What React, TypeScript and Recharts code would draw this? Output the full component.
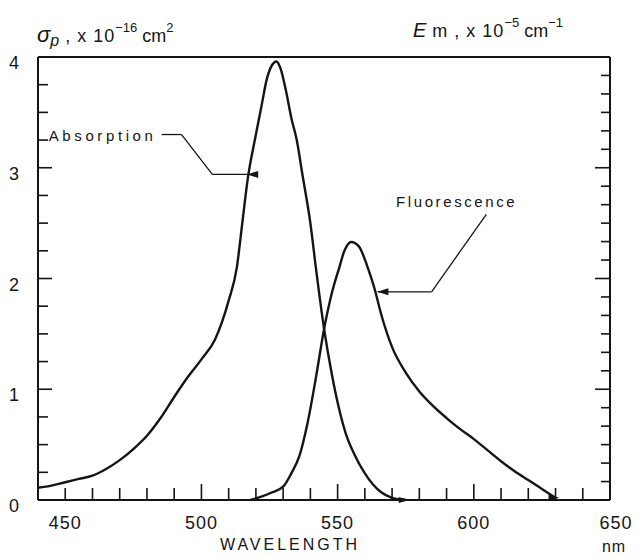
import React from 'react';
import { LineChart, Line, XAxis, YAxis, ReferenceLine, ReferenceDot } from 'recharts';

// ---- data ----
const absorptionNm = [440, 445, 450, 455, 460, 465, 470, 475, 480, 485, 490, 495, 500, 505, 510, 513, 515, 517, 520, 522, 524, 526, 527.5, 529, 531, 533, 535, 537, 540, 542, 545, 548, 550, 553, 556, 560, 563, 566, 570, 575];
const absorptionSigma = [0.11, 0.13, 0.16, 0.19, 0.22, 0.28, 0.36, 0.46, 0.58, 0.74, 0.93, 1.11, 1.27, 1.45, 1.8, 2.1, 2.5, 2.9, 3.3, 3.55, 3.8, 3.93, 3.96, 3.9, 3.7, 3.45, 3.25, 2.95, 2.5, 2.1, 1.55, 1.12, 0.88, 0.6, 0.42, 0.24, 0.14, 0.07, 0.02, 0.0];

const fluorescenceNm = [518, 522, 526, 530, 533, 536, 539, 542, 545, 548, 550.5, 552.5, 555, 557.8, 560.9, 563.3, 566.3, 570, 575, 580, 585, 590, 595, 600, 605, 610, 615, 620, 625, 630];
const fluorescenceEm = [0.0, 0.03, 0.07, 0.12, 0.24, 0.4, 0.7, 1.1, 1.54, 1.88, 2.09, 2.25, 2.33, 2.29, 2.11, 1.93, 1.65, 1.38, 1.15, 0.98, 0.85, 0.74, 0.64, 0.55, 0.45, 0.35, 0.26, 0.18, 0.1, 0.02];

const wavelengthTicks = [440, 450, 460, 470, 480, 490, 500, 510, 520, 530, 540, 550, 560, 570, 580, 590, 600, 610, 620, 630, 640, 650];
const wavelengthLabels = [450, 500, 550, 600, 650];
const wavelengthMajor = [500, 550, 600];

const sigmaTicks = [0, 0.25, 0.5, 0.75, 1, 1.25, 1.5, 1.75, 2, 2.25, 2.5, 2.75, 3, 3.25, 3.5, 3.75, 4];
const sigmaLabels = [0, 1, 2, 3, 4];

const emTicks = [0, 1, 2, 3, 4, 5, 6, 7, 8, 9, 10, 11, 12, 13, 14, 15, 16, 17, 18, 19, 20, 21, 22, 23, 24];
const emMajor = [6, 12, 18];

// annotation anchors (data coordinates)
const absorptionLeader = [
  { x: 485.4, y: 3.3 },
  { x: 492.7, y: 3.3 },
  { x: 504, y: 2.94 },
  { x: 516.8, y: 2.94 },
];
const fluorescenceLeader = [
  { x: 604.6, y: 2.58 },
  { x: 584.5, y: 1.88 },
  { x: 564.6, y: 1.88 },
];
const absorptionText = { x: 483.5, y: 3.3, text: 'Absorption' };
const fluorescenceText = { x: 593.7, y: 2.7, text: 'Fluorescence' };

const absorptionData = absorptionNm.map((nm, i) => ({ nm, v: absorptionSigma[i] }));
const fluorescenceData = fluorescenceNm.map((nm, i) => ({ nm, v: fluorescenceEm[i] }));

const FONT = '"Liberation Sans", Arial, Helvetica, sans-serif';
const INK = '#151515';

function BottomTick(props: any) {
  const { x, y, payload } = props;
  const v = payload.value;
  const edge = v === 440 || v === 650;
  const len = edge ? 0 : wavelengthMajor.includes(v) ? 16 : 12;
  return (
    <g>
      {len > 0 && <line x1={x} y1={y} x2={x} y2={y - len} stroke={INK} strokeWidth={1.6} />}
      {wavelengthLabels.includes(v) && (
        <text x={x + (v === 650 ? 6 : 0)} y={y + 29} textAnchor="middle" fontSize={18} fontFamily={FONT} fill={INK} letterSpacing={1}>
          {v}
        </text>
      )}
    </g>
  );
}

function TopTick(props: any) {
  const { x, y, payload } = props;
  const v = payload.value;
  const edge = v === 440 || v === 650;
  const len = edge ? 0 : wavelengthMajor.includes(v) ? 15 : 11;
  return <g>{len > 0 && <line x1={x} y1={y} x2={x} y2={y + len} stroke={INK} strokeWidth={1.6} />}</g>;
}

function LeftTick(props: any) {
  const { x, y, payload } = props;
  const v = payload.value;
  const edge = v === 0 || v === 4;
  const len = edge ? 0 : Number.isInteger(v) ? 14 : 10;
  return (
    <g>
      {len > 0 && <line x1={x} y1={y} x2={x + len} y2={y} stroke={INK} strokeWidth={1.6} />}
      {sigmaLabels.includes(v) && (
        <text x={x - 19} y={y + 12} textAnchor="end" fontSize={18} fontFamily={FONT} fill={INK}>
          {v}
        </text>
      )}
    </g>
  );
}

function RightTick(props: any) {
  const { x, y, payload } = props;
  const v = payload.value;
  const edge = v === 0 || v === 24;
  const len = edge ? 0 : emMajor.includes(v) ? 15 : 9;
  return <g>{len > 0 && <line x1={x} y1={y} x2={x - len} y2={y} stroke={INK} strokeWidth={1.6} />}</g>;
}

const arrowLeft = (p: any) => (
  <polygon points={`${p.cx},${p.cy} ${p.cx + 11},${p.cy - 3.5} ${p.cx + 11},${p.cy + 3.5}`} fill={INK} />
);

const arrowRight = (p: any) => (
  <polygon points={`${p.cx + 4},${p.cy} ${p.cx - 7},${p.cy - 3} ${p.cx - 7},${p.cy + 3}`} fill={INK} />
);

const textShape = (text: string, anchor: string, spacing: number) => (p: any) => (
  <text x={p.cx} y={p.cy} dy={6} textAnchor={anchor} fontSize={15} fontFamily={FONT} fill={INK} letterSpacing={spacing}>
    {text}
  </text>
);

function segments(points: { x: number; y: number }[], key: string) {
  const out: React.ReactNode[] = [];
  for (let i = 0; i < points.length - 1; i++) {
    out.push(
      <ReferenceLine
        key={`${key}-${i}`}
        xAxisId="bottom"
        yAxisId="left"
        segment={[points[i], points[i + 1]]}
        stroke={INK}
        strokeWidth={1.3}
        ifOverflow="visible"
      />
    );
  }
  return out;
}

export default function App() {
  const absTip = absorptionLeader[absorptionLeader.length - 1];
  const fluTip = fluorescenceLeader[fluorescenceLeader.length - 1];
  const absEnd = absorptionData[absorptionData.length - 1];
  const fluEnd = fluorescenceData[fluorescenceData.length - 1];
  return (
    <div style={{ position: 'absolute', left: 0, top: 0, width: 639, height: 559, background: '#fff' }}>
      <LineChart width={639} height={559} margin={{ top: 0, right: 0, bottom: 0, left: 0 }}>
        <XAxis
          xAxisId="bottom"
          dataKey="nm"
          type="number"
          orientation="bottom"
          domain={[440, 650]}
          ticks={wavelengthTicks}
          interval={0}
          allowDataOverflow
          height={59}
          tickSize={0}
          tickMargin={0}
          tickLine={false}
          axisLine={{ stroke: INK, strokeWidth: 2 }}
          tick={<BottomTick />}
        />
        <XAxis
          xAxisId="top"
          type="number"
          orientation="top"
          domain={[440, 650]}
          ticks={wavelengthTicks}
          interval={0}
          allowDataOverflow
          height={57}
          tickSize={0}
          tickMargin={0}
          tickLine={false}
          axisLine={{ stroke: INK, strokeWidth: 2 }}
          tick={<TopTick />}
        />
        <YAxis
          yAxisId="left"
          type="number"
          orientation="left"
          domain={[0, 4]}
          ticks={sigmaTicks}
          interval={0}
          allowDataOverflow
          width={38}
          tickSize={0}
          tickMargin={0}
          tickLine={false}
          axisLine={{ stroke: INK, strokeWidth: 2 }}
          tick={<LeftTick />}
        />
        <YAxis
          yAxisId="right"
          type="number"
          orientation="right"
          domain={[0, 24]}
          ticks={emTicks}
          interval={0}
          allowDataOverflow
          width={29}
          tickSize={0}
          tickMargin={0}
          tickLine={false}
          axisLine={{ stroke: INK, strokeWidth: 2 }}
          tick={<RightTick />}
        />
        <Line
          xAxisId="bottom"
          yAxisId="left"
          data={absorptionData}
          dataKey="v"
          type="monotone"
          stroke={INK}
          strokeWidth={2.4}
          dot={false}
          isAnimationActive={false}
        />
        <Line
          xAxisId="bottom"
          yAxisId="left"
          data={fluorescenceData}
          dataKey="v"
          type="monotone"
          stroke={INK}
          strokeWidth={2.4}
          dot={false}
          isAnimationActive={false}
        />
        {segments(absorptionLeader, 'abs')}
        {segments(fluorescenceLeader, 'flu')}
        <ReferenceDot xAxisId="bottom" yAxisId="left" x={absTip.x} y={absTip.y} r={0} ifOverflow="visible" shape={arrowLeft} />
        <ReferenceDot xAxisId="bottom" yAxisId="left" x={fluTip.x} y={fluTip.y} r={0} ifOverflow="visible" shape={arrowLeft} />
        <ReferenceDot xAxisId="bottom" yAxisId="left" x={absEnd.nm} y={absEnd.v} r={0} ifOverflow="visible" shape={arrowRight} />
        <ReferenceDot xAxisId="bottom" yAxisId="left" x={fluEnd.nm} y={fluEnd.v} r={0} ifOverflow="visible" shape={arrowRight} />
        <ReferenceDot
          xAxisId="bottom"
          yAxisId="left"
          x={absorptionText.x}
          y={absorptionText.y}
          r={0}
          ifOverflow="visible"
          shape={textShape(absorptionText.text, 'end', 3.6)}
        />
        <ReferenceDot
          xAxisId="bottom"
          yAxisId="left"
          x={fluorescenceText.x}
          y={fluorescenceText.y}
          r={0}
          ifOverflow="visible"
          shape={textShape(fluorescenceText.text, 'middle', 2.6)}
        />
      </LineChart>
      <svg width={639} height={559} style={{ position: 'absolute', left: 0, top: 0, pointerEvents: 'none' }}>
        <text x={37} y={42} fontFamily={FONT} fill={INK} fontSize={22}>
          <tspan fontStyle="italic">σ</tspan>
          <tspan fontStyle="italic" fontSize={16} dy={4}>p</tspan>
          <tspan fontSize={18} dy={-4} letterSpacing={1}> , x 10</tspan>
          <tspan fontSize={13} dy={-10}>−16</tspan>
          <tspan fontSize={18} dy={10}> cm</tspan>
          <tspan fontSize={13} dy={-10}>2</tspan>
        </text>
        <text x={413} y={37} fontFamily={FONT} fill={INK} fontSize={18}>
          <tspan fontStyle="italic" fontSize={20}>E</tspan>
          <tspan fontSize={18} letterSpacing={1}> m , x 10</tspan>
          <tspan fontSize={13} dy={-10}>−5</tspan>
          <tspan fontSize={18} dy={10}>  cm</tspan>
          <tspan fontSize={13} dy={-10}>−1</tspan>
        </text>
        <text x={290} y={550} textAnchor="middle" fontFamily={FONT} fill={INK} fontSize={16} letterSpacing={3}>
          WAVELENGTH
        </text>
        <text x={614} y={552} textAnchor="middle" fontFamily={FONT} fill={INK} fontSize={16} letterSpacing={1}>
          nm
        </text>
      </svg>
    </div>
  );
}
